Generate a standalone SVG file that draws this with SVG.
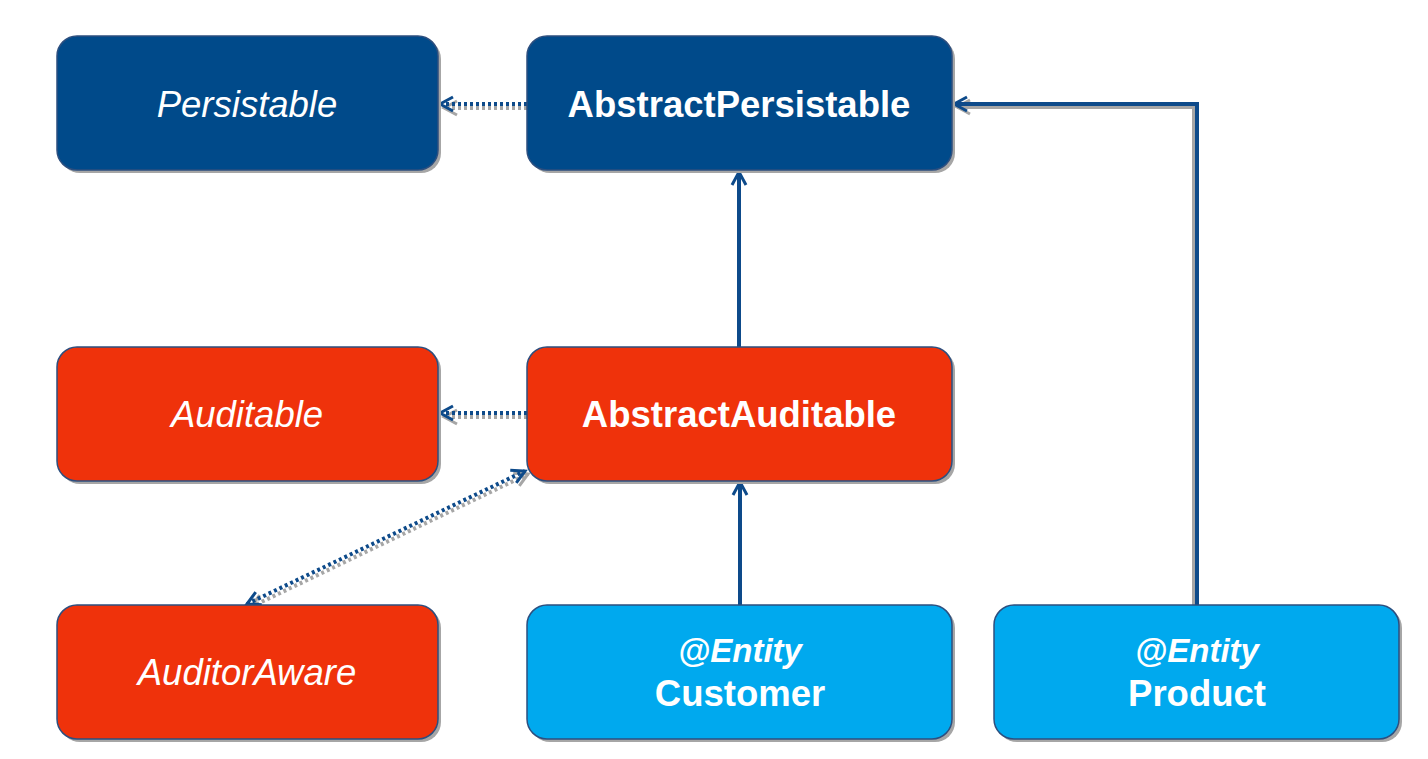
<svg xmlns="http://www.w3.org/2000/svg" width="1428" height="759" viewBox="0 0 1428 759">
<defs>
<style>
.sh{fill:#a6a6a6}
.blue{fill:#004a8a;stroke:#2d4f7f;stroke-width:1.5}
.red{fill:#ef320b;stroke:#2d4f7f;stroke-width:1.5}
.cyan{fill:#00a9ee;stroke:#2d4f7f;stroke-width:1.5}
.t{font-family:"Liberation Sans",Arial,sans-serif;fill:#fff;text-anchor:middle}
.it{font-style:italic;font-size:36.5px}
.bd{font-weight:bold;font-size:36.5px}
.bi{font-weight:bold;font-style:italic;font-size:33px}
.ln{fill:none;stroke:#0d4a8a;stroke-width:4}
.lns{fill:none;stroke:#a6a6a6;stroke-width:4}
.dot{stroke-dasharray:3 3}
</style>
<marker id="ah" viewBox="0 0 20 20" refX="17" refY="10" markerWidth="20" markerHeight="20" markerUnits="userSpaceOnUse" orient="auto-start-reverse">
<path d="M4,3 L17,10 L4,17" fill="none" stroke="#0d4a8a" stroke-width="3"/>
</marker>
<marker id="ahs" viewBox="0 0 20 20" refX="17" refY="10" markerWidth="20" markerHeight="20" markerUnits="userSpaceOnUse" orient="auto-start-reverse">
<path d="M4,3 L17,10 L4,17" fill="none" stroke="#a6a6a6" stroke-width="3"/>
</marker>
</defs>
<rect width="1428" height="759" fill="#fff"/>
<g id="connectors">
<path class="lns dot" d="M527,108 L444,108" marker-end="url(#ahs)"/>
<path class="lns" d="M1194,605 L1194,107 L957,107" marker-end="url(#ahs)"/>
<path class="lns dot" d="M527,417 L444,417" marker-end="url(#ahs)"/>
<path class="lns dot" d="M251,607 L528,474" marker-start="url(#ahs)" marker-end="url(#ahs)"/>
<path class="ln dot" d="M527,104 L440,104" marker-end="url(#ah)"/>
<path class="ln" d="M739,347 L739,172" marker-end="url(#ah)"/>
<path class="ln" d="M740,605 L740,482" marker-end="url(#ah)"/>
<path class="ln" d="M1197,605 L1197,104 L954,104" marker-end="url(#ah)"/>
<path class="ln dot" d="M527,413 L440,413" marker-end="url(#ah)"/>
<path class="ln dot" d="M247,604 L525,471" marker-start="url(#ah)" marker-end="url(#ah)"/>
</g>
<g id="persistable">
<rect class="sh" x="60" y="39" width="381" height="134" rx="20"/>
<rect class="blue" x="57" y="36" width="381" height="134" rx="20"/>
<text class="t it" x="247" y="117">Persistable</text>
</g>
<g id="abstractPersistable">
<rect class="sh" x="530" y="39" width="425" height="134" rx="20"/>
<rect class="blue" x="527" y="36" width="425" height="134" rx="20"/>
<text class="t bd" x="739" y="117">AbstractPersistable</text>
</g>
<g id="auditable">
<rect class="sh" x="60" y="350" width="381" height="134" rx="20"/>
<rect class="red" x="57" y="347" width="381" height="134" rx="20"/>
<text class="t it" x="247" y="427">Auditable</text>
</g>
<g id="abstractAuditable">
<rect class="sh" x="530" y="350" width="425" height="134" rx="20"/>
<rect class="red" x="527" y="347" width="425" height="134" rx="20"/>
<text class="t bd" x="739" y="427">AbstractAuditable</text>
</g>
<g id="auditorAware">
<rect class="sh" x="60" y="608" width="381" height="134" rx="20"/>
<rect class="red" x="57" y="605" width="381" height="134" rx="20"/>
<text class="t it" x="247" y="685">AuditorAware</text>
</g>
<g id="customer">
<rect class="sh" x="530" y="608" width="425" height="134" rx="20"/>
<rect class="cyan" x="527" y="605" width="425" height="134" rx="20"/>
<text class="t bi" x="740" y="662">@Entity</text>
<text class="t bd" x="740" y="706">Customer</text>
</g>
<g id="product">
<rect class="sh" x="997" y="608" width="405" height="134" rx="20"/>
<rect class="cyan" x="994" y="605" width="405" height="134" rx="20"/>
<text class="t bi" x="1197" y="662">@Entity</text>
<text class="t bd" x="1197" y="706">Product</text>
</g>
</svg>
